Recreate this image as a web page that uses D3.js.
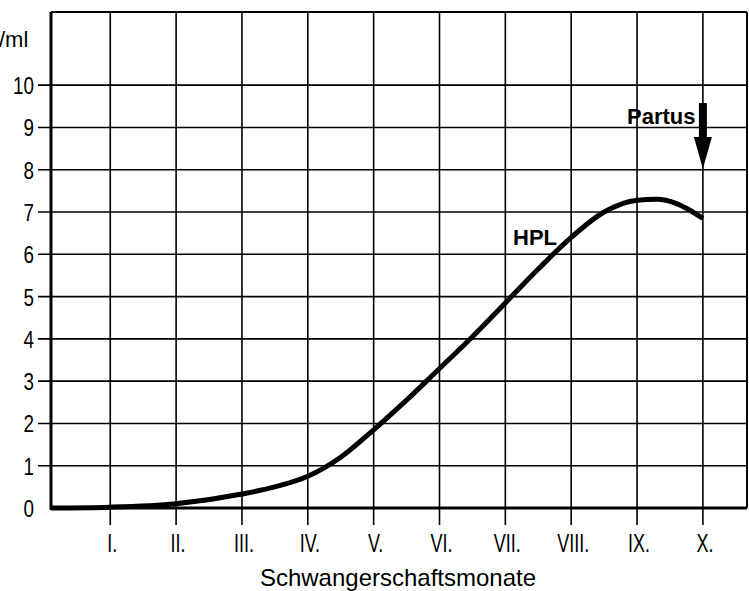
<!DOCTYPE html>
<html>
<head>
  <meta charset="utf-8">
  <script src="https://cdn.jsdelivr.net/npm/d3@7"></script>
  <style>
    body { margin: 0; background: #fff; }
    text { font-family: "Liberation Sans", Arial, sans-serif; fill: #000; }
  </style>
</head>
<body>
<script>
  // month labels (roman numerals) and y ticks
  var months = ["I.", "II.", "III.", "IV.", "V.", "VI.", "VII.", "VIII.", "IX.", "X."];
  var yTicks = [0, 1, 2, 3, 4, 5, 6, 7, 8, 9, 10];

  // HPL curve (month, value)
  var hplMonth = [0.1, 1, 2, 3, 3.5, 4, 4.5, 5, 5.5, 6, 6.5, 7, 7.5, 8, 8.5, 9, 9.3, 9.6, 10];
  var hplValue = [0.0, 0.02, 0.1, 0.33, 0.5, 0.75, 1.2, 1.85, 2.55, 3.3, 4.05, 4.85, 5.65, 6.4, 7.0, 7.28, 7.3, 7.2, 6.85];

  var width = 749, height = 591;
  var x = d3.scaleLinear().domain([0.1, 10.67]).range([51, 747]);
  var y = d3.scaleLinear().domain([0, 11.73]).range([508, 12]);

  var svg = d3.select("body").append("svg")
      .attr("width", width)
      .attr("height", height);

  // grid - horizontal
  svg.append("g").selectAll("line")
    .data(yTicks.slice(1))
    .enter().append("line")
      .attr("x1", 38).attr("x2", 747)
      .attr("y1", function (d) { return y(d); })
      .attr("y2", function (d) { return y(d); })
      .attr("stroke", "#000").attr("stroke-width", 1.6);

  // grid - vertical, with ticks below baseline
  svg.append("g").selectAll("line")
    .data(months)
    .enter().append("line")
      .attr("x1", function (d, i) { return x(i + 1); })
      .attr("x2", function (d, i) { return x(i + 1); })
      .attr("y1", 12).attr("y2", 525)
      .attr("stroke", "#000").attr("stroke-width", 1.6);

  // frame
  svg.append("line").attr("x1", 51).attr("x2", 747).attr("y1", 12).attr("y2", 12)
    .attr("stroke", "#000").attr("stroke-width", 2);
  svg.append("line").attr("x1", 747).attr("x2", 747).attr("y1", 12).attr("y2", 508)
    .attr("stroke", "#000").attr("stroke-width", 2);
  svg.append("line").attr("x1", 51).attr("x2", 51).attr("y1", 12).attr("y2", 510)
    .attr("stroke", "#000").attr("stroke-width", 3);
  svg.append("line").attr("x1", 50).attr("x2", 747).attr("y1", 508).attr("y2", 508)
    .attr("stroke", "#000").attr("stroke-width", 3);

  // y labels (narrow face, like the print)
  svg.append("g").selectAll("text")
    .data(yTicks)
    .enter().append("text")
      .attr("transform", function (d) { return "translate(34," + (y(d) + 9) + ") scale(0.82,1)"; })
      .attr("text-anchor", "end")
      .style("font-size", "23px")
      .text(function (d) { return d; });

  svg.append("text").attr("x", -1).attr("y", 47)
    .style("font-size", "22px").text("/ml");

  // x labels
  svg.append("g").selectAll("text")
    .data(months)
    .enter().append("text")
      .attr("transform", function (d, i) { return "translate(" + (x(i + 1) + 2) + ",552) scale(0.72,1)"; })
      .attr("text-anchor", "middle")
      .style("font-size", "25px")
      .text(function (d) { return d; });

  svg.append("text").attr("x", 398).attr("y", 586)
    .attr("text-anchor", "middle")
    .style("font-size", "24px")
    .text("Schwangerschaftsmonate");

  // HPL curve
  var line = d3.line()
    .x(function (d) { return x(d[0]); })
    .y(function (d) { return y(d[1]); })
    .curve(d3.curveMonotoneX);

  svg.append("path")
    .datum(d3.zip(hplMonth, hplValue))
    .attr("d", line)
    .attr("fill", "none")
    .attr("stroke", "#000")
    .attr("stroke-width", 5);

  svg.append("text").attr("x", 513).attr("y", 245)
    .style("font-size", "22px").style("font-weight", "bold").text("HPL");

  // Partus arrow at month X
  var ax = x(10);
  svg.append("text").attr("x", 627).attr("y", 124)
    .style("font-size", "22px").style("font-weight", "bold").text("Partus");
  svg.append("rect").attr("x", ax - 4).attr("y", 103).attr("width", 8).attr("height", 36)
    .attr("fill", "#000");
  svg.append("path")
    .attr("d", "M" + (ax - 9) + ",137 L" + (ax + 9) + ",137 L" + ax + ",169 Z")
    .attr("fill", "#000");
</script>
</body>
</html>
